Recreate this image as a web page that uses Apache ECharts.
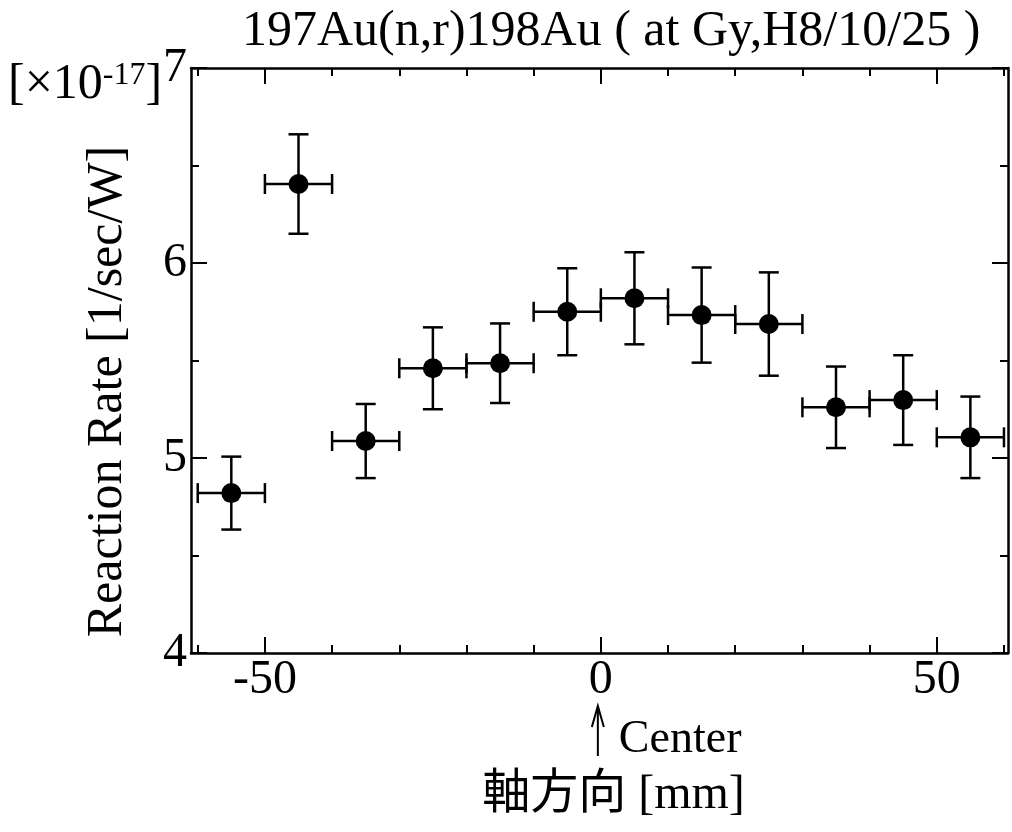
<!DOCTYPE html>
<html><head><meta charset="utf-8">
<script src="https://cdn.jsdelivr.net/npm/echarts@6/dist/echarts.min.js"></script>
<style>html,body{margin:0;padding:0;background:#fff}#c{width:1012px;height:832px}</style>
</head><body><div id="c"></div>
<script>
// ---- data ----
const positions = [-55, -45, -35, -25, -15, -5, 5, 15, 25, 35, 45, 55];       // mm
const positionErrors = [5, 5, 5, 5, 5, 5, 5, 5, 5, 5, 5, 5];                  // ± mm
const rates = [4.82, 6.405, 5.087, 5.46, 5.486, 5.75, 5.819, 5.733, 5.687, 5.26, 5.297, 5.106]; // x1e-17 1/sec/W
const rateErrors = [0.187, 0.255, 0.19, 0.21, 0.204, 0.223, 0.236, 0.244, 0.265, 0.209, 0.23, 0.209];
const xMajorTicks = [-50, 0, 50];
const xMinorTicks = [-60, -40, -30, -20, -10, 10, 20, 30, 40, 60];
const yMajorTicks = [4, 5, 6, 7];
const yMinorTicks = [4.5, 5.5, 6.5];
const titleText = '197Au(n,r)198Au ( at Gy,H8/10/25 )';
const yName = 'Reaction Rate [1/sec/W]';
const xName = '軸方向 [mm]';

const SERIF = '"Liberation Serif", "Times New Roman", serif';
const LW = 2.5;
const chart = echarts.init(document.getElementById('c'));

function xAx(pos, ticks, len, withLine, withLabel) {
  const a = {
    type: 'value', position: pos, min: -61, max: 60.6,
    splitLine: { show: false },
    axisLine: { show: withLine, onZero: false, lineStyle: { color: '#000', width: LW } },
    axisTick: { show: true, inside: true, length: len, customValues: ticks, lineStyle: { color: '#000', width: 2 } },
    axisLabel: withLabel ? { show: true, customValues: ticks, fontFamily: SERIF, fontSize: 48, color: '#000', margin: 3 } : { show: false }
  };
  if (withLabel) {
    a.name = xName; a.nameLocation = 'middle'; a.nameGap = 118;
    a.nameTextStyle = { fontFamily: '"Liberation Serif", "Noto Sans CJK JP", serif', fontSize: 48, color: '#000', padding: [0, 0, 0, 28] };
  }
  return a;
}
function yAx(pos, ticks, len, withLine, withLabel) {
  const a = {
    type: 'value', position: pos, min: 4, max: 7,
    splitLine: { show: false },
    axisLine: { show: withLine, onZero: false, lineStyle: { color: '#000', width: LW } },
    axisTick: { show: true, inside: true, length: len, customValues: ticks, lineStyle: { color: '#000', width: 2 } },
    axisLabel: withLabel ? { show: true, customValues: ticks, fontFamily: SERIF, fontSize: 48, color: '#000', margin: 4 } : { show: false }
  };
  if (withLabel) {
    a.name = yName; a.nameLocation = 'middle'; a.nameRotate = 90; a.nameGap = 58;
    a.nameTextStyle = { fontFamily: SERIF, fontSize: 50, color: '#000', padding: [0, 62, 0, 0] };
  }
  return a;
}

const points = positions.map((p, i) => [p, rates[i], positionErrors[i], rateErrors[i]]);

chart.setOption({
  animation: false,
  backgroundColor: '#fff',
  title: { text: titleText, left: 237, top: 2, textStyle: { fontFamily: SERIF, fontSize: 50, fontWeight: 'normal', color: '#000' } },
  grid: { left: 191, right: 4, top: 68, bottom: 179 },
  xAxis: [xAx('bottom', xMajorTicks, 16, true, true), xAx('bottom', xMinorTicks, 8, false, false),
          xAx('top', xMajorTicks, 16, true, false), xAx('top', xMinorTicks, 8, false, false)],
  yAxis: [yAx('left', yMajorTicks, 16, true, true), yAx('left', yMinorTicks, 8, false, false),
          yAx('right', yMajorTicks, 16, true, false), yAx('right', yMinorTicks, 8, false, false)],
  series: [
    {
      type: 'custom', xAxisIndex: 0, yAxisIndex: 0, data: points, encode: { x: 0, y: 1 }, z: 2,
      renderItem: function (params, api) {
        const x = api.value(0), y = api.value(1), ex = api.value(2), ey = api.value(3);
        const l = api.coord([x - ex, y]), r = api.coord([x + ex, y]);
        const t = api.coord([x, y + ey]), b = api.coord([x, y - ey]);
        const cap = 10;
        const st = { stroke: '#000', lineWidth: LW };
        return { type: 'group', children: [
          { type: 'line', shape: { x1: l[0], y1: l[1], x2: r[0], y2: r[1] }, style: st },
          { type: 'line', shape: { x1: t[0], y1: t[1], x2: b[0], y2: b[1] }, style: st },
          { type: 'line', shape: { x1: l[0], y1: l[1] - cap, x2: l[0], y2: l[1] + cap }, style: st },
          { type: 'line', shape: { x1: r[0], y1: r[1] - cap, x2: r[0], y2: r[1] + cap }, style: st },
          { type: 'line', shape: { x1: t[0] - cap, y1: t[1], x2: t[0] + cap, y2: t[1] }, style: st },
          { type: 'line', shape: { x1: b[0] - cap, y1: b[1], x2: b[0] + cap, y2: b[1] }, style: st }
        ]};
      }
    },
    {
      type: 'scatter', xAxisIndex: 0, yAxisIndex: 0, z: 3,
      data: positions.map((p, i) => [p, rates[i]]),
      symbol: 'circle', symbolSize: 20, itemStyle: { color: '#000', opacity: 1 }
    }
  ]
});

const cx = chart.convertToPixel({ xAxisIndex: 0 }, 0);
chart.setOption({
  graphic: [
    { type: 'text', left: 8, top: 60, style: {
        text: '{a|[×10}{b|-17}{a|]}', rich: {
          a: { fontFamily: SERIF, fontSize: 50, fill: '#000', verticalAlign: 'bottom' },
          b: { fontFamily: SERIF, fontSize: 32, fill: '#000', verticalAlign: 'top' }
        } } },
    { type: 'line', shape: { x1: cx - 3, y1: 756, x2: cx - 3, y2: 707 }, style: { stroke: '#000', lineWidth: 2 } },
    { type: 'polyline', shape: { points: [[cx - 9, 727], [cx - 3, 706], [cx + 3, 727]] }, style: { stroke: '#000', lineWidth: 2, fill: null } },
    { type: 'text', x: cx + 18, y: 740, style: { text: 'Center', fontFamily: SERIF, fontSize: 46, fill: '#000', verticalAlign: 'middle' } }
  ]
});
</script></body></html>
